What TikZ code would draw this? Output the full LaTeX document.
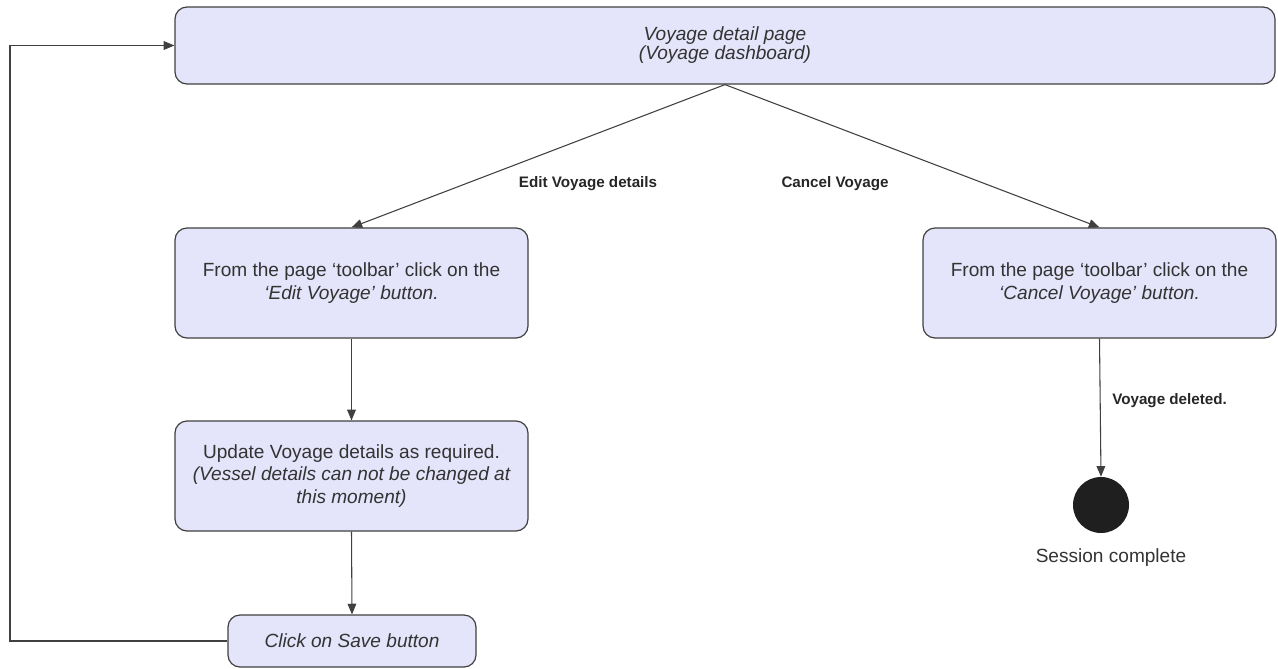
\documentclass[tikz,border=0pt]{standalone}
\usepackage{fontspec}
\setmainfont{Liberation Sans}
\usetikzlibrary{arrows.meta}
\definecolor{statefill}{RGB}{228,228,250}
\definecolor{stateline}{RGB}{64,64,64}
\tikzset{
  state/.style={draw=stateline, fill=statefill, line width=0.9pt, rounded corners=9pt,
    align=center, font=\fontsize{14.3}{16.6}\selectfont, text=black!80, inner sep=0pt},
  flow/.style={draw=stateline, line width=0.8pt, -{Triangle[length=8pt,width=6.5pt]}},
  guard/.style={font=\fontsize{11.4}{13}\selectfont\bfseries, text=black!85, inner sep=0pt}
}
\begin{document}
\begin{tikzpicture}[x=0.75pt, y=-0.75pt]
  \useasboundingbox (0,0) rectangle (1278,668);

  % states
  \node[state, minimum width=825pt, minimum height=57.75pt, font=\fontsize{14.3}{14.3}\selectfont] (dash) at (725,45.5)
    {\itshape Voyage detail page\\\itshape (Voyage dashboard)};
  \node[state, minimum width=264.75pt, minimum height=82.5pt] (edit) at (351.5,283)
    {From the page `toolbar' click on the\\\itshape `Edit Voyage' button.};
  \node[state, minimum width=264.75pt, minimum height=82.5pt] (cancel) at (1099.5,283)
    {From the page `toolbar' click on the\\\itshape `Cancel Voyage' button.};
  \node[state, minimum width=264.75pt, minimum height=82.5pt] (update) at (351.5,476)
    {Update Voyage details as required.\\\itshape (Vessel details can not be changed at\\\itshape this moment)};
  \node[state, minimum width=186pt, minimum height=39pt] (save) at (352,641)
    {\itshape Click on Save button};

  % final state
  \node[circle, fill=black!88, minimum size=42pt, inner sep=0pt] (done) at (1101,505) {};
  \node[font=\fontsize{14.3}{16.6}\selectfont, text=black!80, inner sep=0pt] (donelbl) at (1111,558) {Session complete};

  % transitions
  \draw[flow] (dash.south) -- (edit.north);
  \draw[flow] (dash.south) -- (cancel.north);
  \draw[flow] (edit.south) -- (update.north);
  \draw[flow] (update.south) -- (save.north);
  \draw[flow] (cancel.south) -- (done.north);
  \coordinate (loopa) at (10,641);
  \coordinate (loopb) at (10,45.5);
  \draw[flow] (save.west) -- (loopa) -- (loopb) -- (dash.west);

  % labels
  \node[guard] (editlbl) at (588,184) {Edit Voyage details};
  \node[guard] (cancellbl) at (835,184) {Cancel Voyage};
  \node[guard, anchor=west] (dellbl) at (1112,401) {Voyage deleted.};
\end{tikzpicture}
\end{document}
